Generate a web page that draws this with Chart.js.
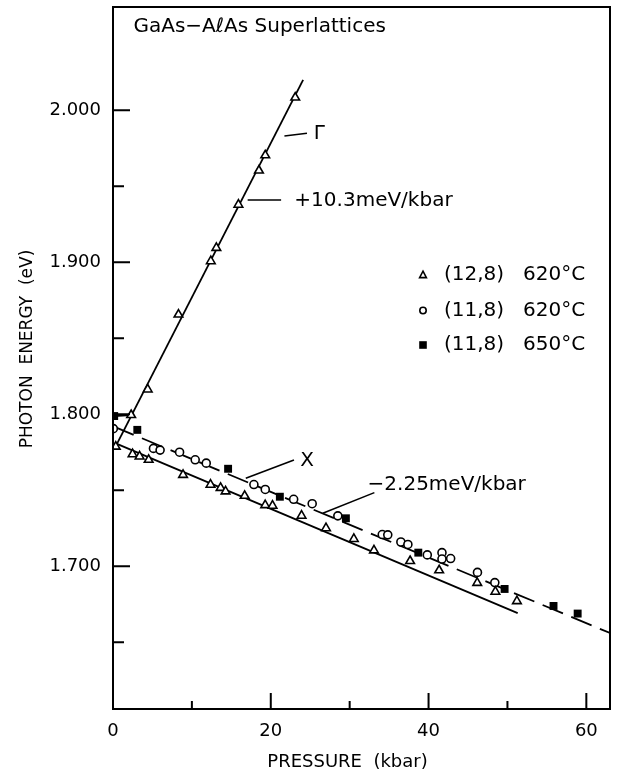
<!DOCTYPE html>
<html lang="en">
<head>
    <meta charset="UTF-8">
    <title>GaAs-AlAs Superlattices - Photon energy vs pressure</title>
    <script src="https://cdn.jsdelivr.net/npm/chart.js@4.4.0/dist/chart.umd.min.js"></script>
    <style>
        html, body {
            margin: 0;
            padding: 0;
            background-color: #fff;
        }

        #chart {
            display: block;
        }
    </style>
</head>
<body>
    <canvas id="chart" width="627" height="776"></canvas>

    <script>
        // (12,8) 620C - triangles (Gamma branch first, then X branch)
        const triPressure = [2.3, 4.4, 8.3, 12.4, 13.1, 15.9, 18.5, 19.3, 23.1,
            0.35, 2.48, 3.37, 4.52, 8.88, 12.36, 13.64, 14.27, 16.69, 19.29, 20.22,
            23.9, 27.0, 30.53, 33.08, 37.66, 41.34, 46.17, 48.47, 51.2];
        const triEnergy = [1.7995, 1.8163, 1.8656, 1.9007, 1.9095, 1.9379, 1.9604, 1.9704, 2.0084,
            1.7787, 1.7737, 1.7722, 1.7700, 1.7601, 1.7536, 1.7515, 1.7492, 1.7463, 1.7402, 1.7398,
            1.7332, 1.7250, 1.7179, 1.7104, 1.7034, 1.6973, 1.6890, 1.6832, 1.6770];

        // (11,8) 620C - open circles
        const circPressure = [0.04, 5.13, 5.97, 8.44, 10.42, 11.82, 17.86, 19.3, 22.9, 25.25,
            28.5, 34.13, 34.83, 36.49, 37.38, 39.84, 41.7, 41.7, 42.8, 46.2, 48.4];
        const circEnergy = [1.7905, 1.7775, 1.7764, 1.7750, 1.7700, 1.7678, 1.7537, 1.7505, 1.7440, 1.7411,
            1.7331, 1.7208, 1.7206, 1.7159, 1.7143, 1.7074, 1.7089, 1.7047, 1.7050, 1.6959, 1.6892];

        // (11,8) 650C - filled squares
        const sqPressure = [0.15, 3.08, 14.59, 21.15, 29.52, 38.7, 49.64, 55.84, 58.9];
        const sqEnergy = [1.7988, 1.7897, 1.7641, 1.7457, 1.7315, 1.7089, 1.6850, 1.6738, 1.6688];

        // fitted lines (end points)
        const gammaFitP = [0.5, 24.1];
        const gammaFitE = [1.7805, 2.020];
        const xFitP = [0.5, 51.3];
        const xFitE = [1.7805, 1.6691];
        const dashFitP = [0.04, 63];
        const dashFitE = [1.792, 1.656];
        const stubP = [0.15, 2.3];
        const stubE = [1.7988, 1.7995];

        // axes
        const xMajorTicks = [0, 20, 40, 60];
        const xMinorTicks = [10, 30, 50];
        const yMajorTicks = [1.7, 1.8, 1.9, 2.0];
        const yMinorTicks = [1.65, 1.75, 1.85, 1.95];

        const toPoints = (xs, ys) => xs.map((v, i) => ({ x: v, y: ys[i] }));

        const lineStyle = {
            showLine: true,
            pointRadius: 0,
            borderColor: '#000',
            borderWidth: 1.8,
            order: 1
        };

        // box + inward ticks
        const frame = {
            id: 'frame',
            afterDatasetsDraw(chart) {
                const { ctx, chartArea: a, scales: { x, y } } = chart;
                ctx.save();
                ctx.strokeStyle = '#000';
                ctx.lineWidth = 2;
                ctx.strokeRect(a.left, a.top, a.right - a.left, a.bottom - a.top);
                ctx.beginPath();
                xMajorTicks.forEach(v => {
                    const p = x.getPixelForValue(v);
                    ctx.moveTo(p, a.bottom); ctx.lineTo(p, a.bottom - 16);
                });
                xMinorTicks.forEach(v => {
                    const p = x.getPixelForValue(v);
                    ctx.moveTo(p, a.bottom); ctx.lineTo(p, a.bottom - 8);
                });
                yMajorTicks.forEach(v => {
                    const p = y.getPixelForValue(v);
                    ctx.moveTo(a.left, p); ctx.lineTo(a.left + 17, p);
                });
                yMinorTicks.forEach(v => {
                    const p = y.getPixelForValue(v);
                    ctx.moveTo(a.left, p); ctx.lineTo(a.left + 11, p);
                });
                ctx.stroke();
                ctx.restore();
            }
        };

        // titles, labels, leaders and legend
        const labels = {
            id: 'labels',
            afterDraw(chart) {
                const { ctx, scales: { x, y } } = chart;
                const X = v => x.getPixelForValue(v);
                const Y = v => y.getPixelForValue(v);
                const font = size => size + 'px "DejaVu Sans"';

                ctx.save();
                ctx.fillStyle = '#000';
                ctx.strokeStyle = '#000';
                ctx.lineWidth = 1.6;
                ctx.textBaseline = 'middle';
                ctx.textAlign = 'left';

                ctx.font = font(20);
                ctx.fillText('GaAs\u2212A\u2113As Superlattices', X(2.6), Y(2.0548));

                // leaders
                const leader = (x1, y1, x2, y2) => {
                    ctx.beginPath();
                    ctx.moveTo(X(x1), Y(y1));
                    ctx.lineTo(X(x2), Y(y2));
                    ctx.stroke();
                };
                leader(21.73, 1.9831, 24.59, 1.9849);
                leader(17.07, 1.9410, 21.31, 1.9410);
                leader(16.83, 1.7578, 22.94, 1.7698);
                leader(26.59, 1.7348, 33.13, 1.7484);

                ctx.fillText('\u0393', X(25.44), Y(1.9844));
                ctx.fillText('+10.3meV/kbar', X(22.99), Y(1.9403));
                ctx.fillText('X', X(23.74), Y(1.7692));
                ctx.fillText('\u22122.25meV/kbar', X(32.27), Y(1.7534));

                // legend
                const rows = [
                    { y: 275, name: '(12,8)', temp: '620\u00b0C', mark: 'tri' },
                    { y: 310.5, name: '(11,8)', temp: '620\u00b0C', mark: 'circ' },
                    { y: 345, name: '(11,8)', temp: '650\u00b0C', mark: 'sq' }
                ];
                rows.forEach(r => {
                    const mx = 423;
                    ctx.lineWidth = 1.6;
                    ctx.beginPath();
                    if (r.mark === 'tri') {
                        ctx.moveTo(mx, r.y - 3.8);
                        ctx.lineTo(mx + 3.4, r.y + 2.6);
                        ctx.lineTo(mx - 3.4, r.y + 2.6);
                        ctx.closePath();
                        ctx.stroke();
                    } else if (r.mark === 'circ') {
                        ctx.arc(mx, r.y, 3.2, 0, Math.PI * 2);
                        ctx.stroke();
                    } else {
                        ctx.fillRect(mx - 3.8, r.y - 3.8, 7.6, 7.6);
                    }
                    ctx.fillText(r.name, 444, r.y);
                    ctx.fillText(r.temp, 523, r.y);
                });

                // axis titles
                ctx.font = font(18);
                ctx.textAlign = 'center';
                ctx.fillText('PRESSURE  (kbar)', 347.5, 762);
                ctx.font = font(17);
                ctx.translate(28, 349);
                ctx.rotate(-Math.PI / 2);
                ctx.fillText('PHOTON  ENERGY  (eV)', 0, 0);
                ctx.restore();
            }
        };

        new Chart(document.getElementById('chart'), {
            type: 'scatter',
            data: {
                datasets: [
                    {
                        label: '(12,8) 620C',
                        data: toPoints(triPressure, triEnergy),
                        pointStyle: 'triangle',
                        pointRadius: 5,
                        borderWidth: 1.6,
                        borderColor: '#000',
                        backgroundColor: '#fff',
                        order: 0
                    },
                    {
                        label: '(11,8) 620C',
                        data: toPoints(circPressure, circEnergy),
                        pointStyle: 'circle',
                        pointRadius: 4,
                        borderWidth: 1.6,
                        borderColor: '#000',
                        backgroundColor: '#fff',
                        order: 0
                    },
                    {
                        label: '(11,8) 650C',
                        data: toPoints(sqPressure, sqEnergy),
                        pointStyle: 'rect',
                        pointRadius: 5.6,
                        borderWidth: 0,
                        backgroundColor: '#000',
                        order: 0
                    },
                    Object.assign({ label: 'Gamma', data: toPoints(gammaFitP, gammaFitE) }, lineStyle),
                    Object.assign({ label: 'X', data: toPoints(xFitP, xFitE) }, lineStyle),
                    Object.assign({ label: 'X dashed', data: toPoints(dashFitP, dashFitE), borderDash: [22, 9] }, lineStyle),
                    Object.assign({ label: 'stub', data: toPoints(stubP, stubE) }, lineStyle)
                ]
            },
            options: {
                responsive: false,
                animation: false,
                layout: {
                    padding: { top: 7, right: 17, left: 0, bottom: 0 }
                },
                plugins: {
                    legend: { display: false },
                    tooltip: { enabled: false }
                },
                scales: {
                    x: {
                        type: 'linear',
                        min: 0,
                        max: 63,
                        afterFit: s => {
                            s.height = 67;
                            s.paddingLeft = 0;
                            s.paddingRight = 0;
                        },
                        afterBuildTicks: s => { s.ticks = xMajorTicks.map(v => ({ value: v })); },
                        grid: { drawOnChartArea: false, drawTicks: false },
                        border: { display: false },
                        ticks: {
                            padding: 12,
                            color: '#000',
                            maxRotation: 0,
                            font: { family: 'DejaVu Sans', size: 18 }
                        }
                    },
                    y: {
                        type: 'linear',
                        min: 1.606,
                        max: 2.068,
                        afterFit: s => {
                            s.width = 113;
                            s.paddingTop = 0;
                            s.paddingBottom = 0;
                        },
                        afterBuildTicks: s => { s.ticks = yMajorTicks.map(v => ({ value: v })); },
                        grid: { drawOnChartArea: false, drawTicks: false },
                        border: { display: false },
                        ticks: {
                            padding: 12,
                            color: '#000',
                            font: { family: 'DejaVu Sans', size: 18 },
                            callback: v => v.toFixed(3)
                        }
                    }
                }
            },
            plugins: [frame, labels]
        });
    </script>
</body>
</html>
